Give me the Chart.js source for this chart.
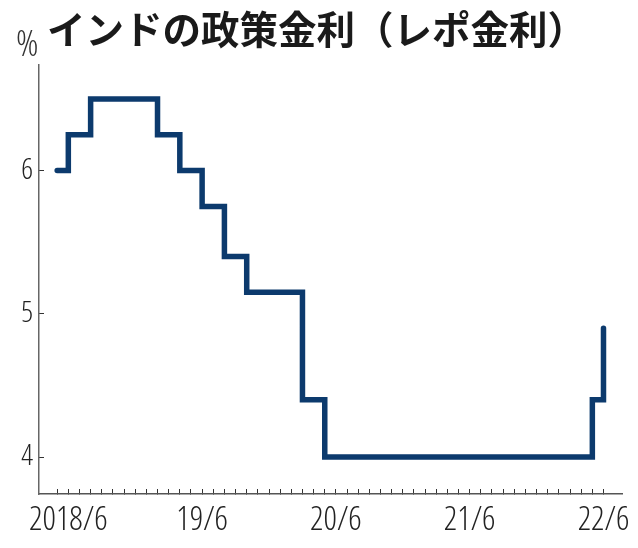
<!DOCTYPE html>
<html>
<head>
<meta charset="utf-8">
<script src="https://cdn.jsdelivr.net/npm/chart.js@4"></script>
<style>
  html, body { margin: 0; padding: 0; background: #fff; }
  #wrap { width: 638px; height: 548px; position: relative; }
</style>
</head>
<body>
<div id="wrap"><canvas id="chart"></canvas></div>
<script>
// --- data: month the rate changed (yyyy/m) and the new rate (%) ---
const changeMonths = ['2018/5', '2018/6', '2018/8', '2019/2', '2019/4', '2019/6',
                      '2019/8', '2019/10', '2020/3', '2020/5', '2022/5', '2022/6'];
const repoRates = [6.0, 6.25, 6.5, 6.25, 6.0, 5.75, 5.4, 5.15, 4.4, 4.0, 4.4, 4.9];
const xTickLabels = ['2018/6', '19/6', '20/6', '21/6', '22/6'];
const yTickValues = [4, 5, 6];
const titleText = 'インドの政策金利（レポ金利）';
const unitText = '%';

// months counted from 2018/6
const monthIndex = (s) => {
    const [y, m] = s.split('/').map(Number);
    return (y - 2018) * 12 + (m - 6);
};
const points = changeMonths.map((s, i) => ({ x: monthIndex(s), y: repoRates[i] }));
const firstTick = monthIndex('2018/5');
const lastTick = monthIndex('2022/6');

const tickFamily = "'Open Sans', 'Noto Sans', sans-serif";

// title and unit label
const headerPlugin = {
    id: 'header',
    afterDraw(chart) {
        const ctx = chart.ctx;
        ctx.save();
        ctx.fillStyle = '#1a1a1a';
        ctx.textBaseline = 'alphabetic';
        ctx.textAlign = 'left';
        ctx.font = "bold 38.5px 'Noto Sans CJK JP', sans-serif";
        ctx.fillText(titleText, 47, 44);
        ctx.font = "normal 300 condensed 37px " + tickFamily;
        ctx.fillStyle = '#333';
        ctx.fillText(unitText, 16, 56);
        ctx.restore();
    }
};

new Chart(document.getElementById('chart'), {
    type: 'line',
    data: {
        datasets: [{
            data: points,
            stepped: true,
            borderColor: '#0c3a6d',
            borderWidth: 5.5,
            borderJoinStyle: 'miter',
            borderCapStyle: 'round',
            pointRadius: 0,
            fill: false
        }]
    },
    options: {
        responsive: true,
        maintainAspectRatio: false,
        animation: false,
        layout: { padding: { top: 65, left: 0, right: 16, bottom: 0 } },
        plugins: { legend: { display: false }, tooltip: { enabled: false } },
        scales: {
            x: {
                type: 'linear',
                min: -2.63,
                max: 49.66,
                afterBuildTicks: (scale) => {
                    const t = [];
                    for (let v = firstTick; v <= lastTick; v++) t.push({ value: v });
                    scale.ticks = t;
                },
                afterFit: (scale) => {
                    scale.height = 54;
                    scale.paddingLeft = 0;
                    scale.paddingRight = 0;
                },
                border: { display: true, color: '#555', width: 1.5 },
                grid: { drawOnChartArea: false, drawTicks: true, tickLength: -5, color: '#333', lineWidth: 1 },
                ticks: {
                    autoSkip: false,
                    maxRotation: 0,
                    padding: 12,
                    color: '#222',
                    font: { family: tickFamily, size: 33, style: 'normal', weight: '300 condensed' },
                    callback: (v) => (v % 12 === 0 ? xTickLabels[v / 12] : '')
                }
            },
            y: {
                min: 3.742,
                max: 6.737,
                afterBuildTicks: (scale) => { scale.ticks = yTickValues.map(v => ({ value: v })); },
                afterFit: (scale) => {
                    scale.width = 39;
                    scale.paddingTop = 0;
                    scale.paddingBottom = 0;
                },
                border: { display: true, color: '#666', width: 1.5 },
                grid: { drawOnChartArea: false, drawTicks: true, tickLength: -5, color: '#333', lineWidth: 1 },
                ticks: {
                    padding: 11,
                    color: '#222',
                    font: { family: tickFamily, size: 29, style: 'normal', weight: '300 condensed' }
                }
            }
        }
    },
    plugins: [headerPlugin]
});
</script>
</body>
</html>
